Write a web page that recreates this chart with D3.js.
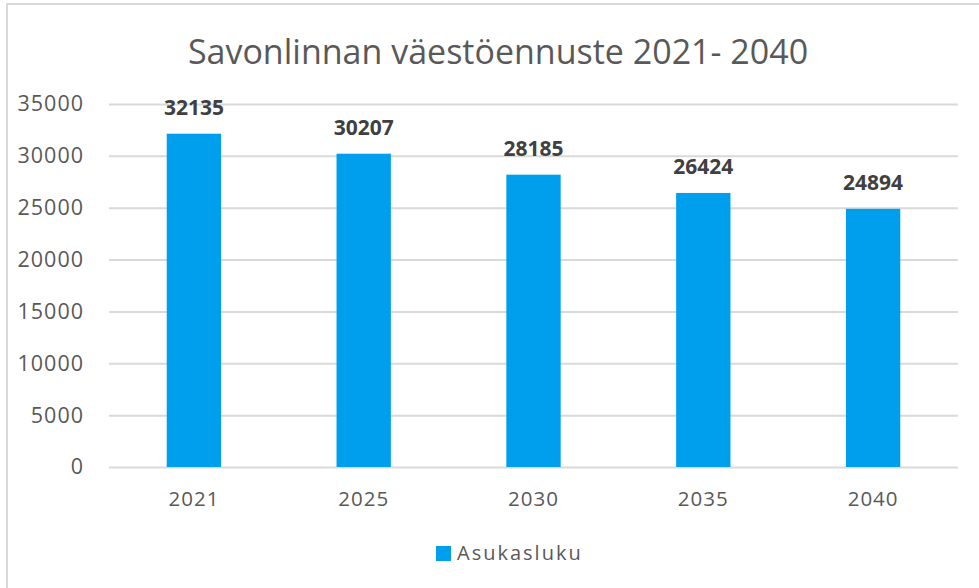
<!DOCTYPE html>
<html>
<head>
<meta charset="utf-8">
<script src="https://cdn.jsdelivr.net/npm/d3@7"></script>
<style>
  body { margin: 0; background: #fff; }
  svg { display: block; font-family: "Open Sans", "Noto Sans", sans-serif; }
</style>
</head>
<body>
<svg></svg>
<script>
const years = ['2021', '2025', '2030', '2035', '2040'];
const population = [32135, 30207, 28185, 26424, 24894];
const yTicks = [0, 5000, 10000, 15000, 20000, 25000, 30000, 35000];
const seriesName = 'Asukasluku';
const title = 'Savonlinnan väestöennuste 2021- 2040';

const width = 979, height = 588;
const margin = {top: 104, right: 21, bottom: 121, left: 109};
const innerWidth = width - margin.left - margin.right;
const innerHeight = height - margin.top - margin.bottom;
const barColor = '#009fee';

const svg = d3.select('svg')
  .attr('width', width)
  .attr('height', height);

// chart frame (only top and left edges are visible in the picture)
svg.append('rect')
  .attr('x', 7).attr('y', 4)
  .attr('width', width + 20).attr('height', height + 20)
  .attr('fill', 'none')
  .attr('stroke', '#d9d9d9')
  .attr('stroke-width', 2);

svg.append('text')
  .text(title)
  .attr('x', 498)
  .attr('y', 64)
  .attr('text-anchor', 'middle')
  .attr('fill', '#595959')
  .style('font-size', '34px');

const xScale = d3.scaleBand()
  .domain(years)
  .range([0, innerWidth])
  .paddingInner(0.68)
  .paddingOuter(0.34);

const yScale = d3.scaleLinear()
  .domain([0, 35000])
  .range([innerHeight, 0]);

const g = svg.append('g')
  .attr('transform', `translate(${margin.left}, ${margin.top})`);

const yAxis = g.append('g')
  .call(d3.axisLeft(yScale).tickValues(yTicks).tickSize(-innerWidth).tickPadding(25).tickFormat(d3.format('d')));
yAxis.select('.domain').remove();
yAxis.selectAll('.tick line').attr('stroke', '#d9d9d9').attr('stroke-width', 2);
yAxis.selectAll('.tick text')
  .attr('fill', '#595959')
  .style('font-size', '21.5px')
  .style('letter-spacing', '1px')
  .style('font-family', '"Open Sans", sans-serif');

const xAxis = g.append('g')
  .attr('transform', `translate(0, ${innerHeight})`)
  .call(d3.axisBottom(xScale).tickSize(0).tickPadding(24));
xAxis.select('.domain').remove();
xAxis.selectAll('.tick text')
  .attr('fill', '#595959')
  .style('font-size', '20.5px')
  .style('letter-spacing', '1px')
  .style('font-family', '"Open Sans", sans-serif');

g.selectAll('rect.bar').data(population)
  .enter().append('rect')
  .attr('class', 'bar')
  .attr('x', (d, i) => xScale(years[i]))
  .attr('y', d => yScale(d))
  .attr('width', xScale.bandwidth())
  .attr('height', d => innerHeight - yScale(d))
  .attr('fill', barColor);

g.selectAll('text.label').data(population)
  .enter().append('text')
  .attr('class', 'label')
  .attr('x', (d, i) => xScale(years[i]) + xScale.bandwidth() / 2)
  .attr('y', d => yScale(d) - 19)
  .attr('text-anchor', 'middle')
  .attr('fill', '#404040')
  .style('font-size', '21px')
  .style('font-weight', 'bold')
  .text(d => d);

// legend
const legend = svg.append('g')
  .attr('transform', 'translate(436, 546)');
legend.append('rect')
  .attr('width', 15).attr('height', 15)
  .attr('fill', barColor);
legend.append('text')
  .attr('x', 21).attr('y', 14)
  .attr('fill', '#595959')
  .style('font-size', '20px')
  .style('letter-spacing', '2px')
  .text(seriesName);
</script>
</body>
</html>
